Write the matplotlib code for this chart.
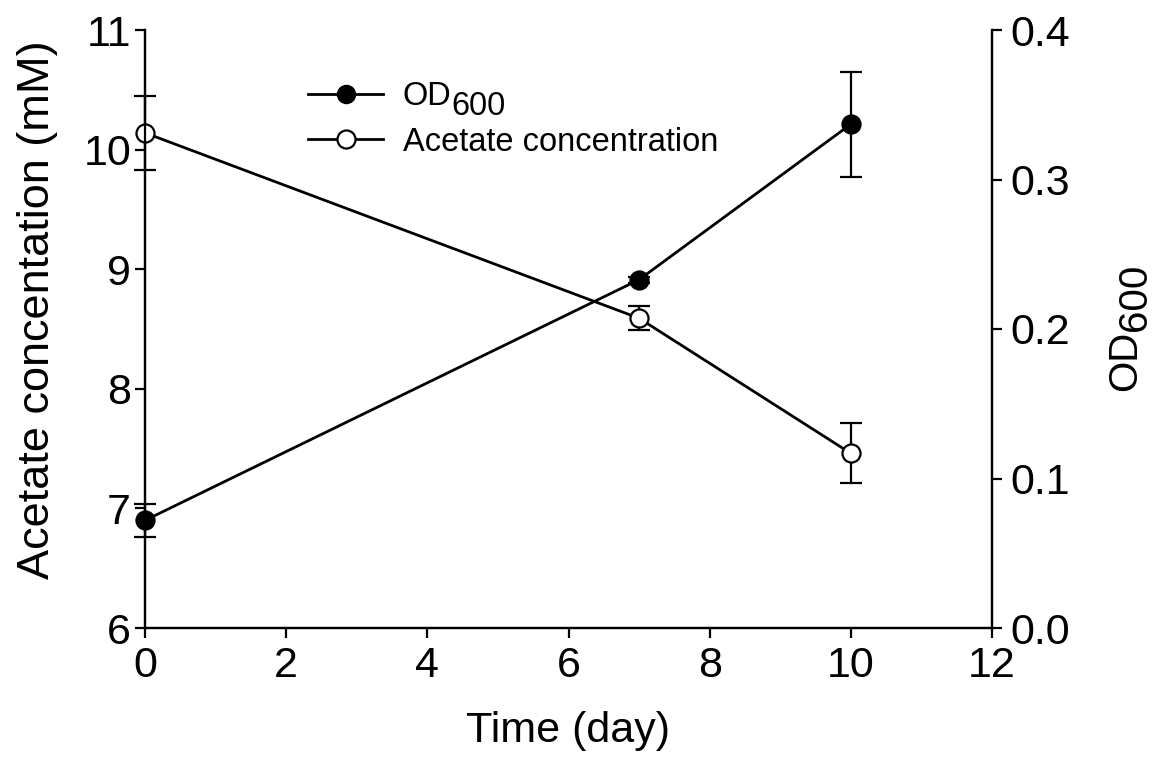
import matplotlib
matplotlib.use("Agg")
import matplotlib.pyplot as plt
from matplotlib.lines import Line2D

plt.rcParams.update({
    "font.family": ["Liberation Sans", "DejaVu Sans"],
})

# data
days = [0, 7, 10]
acetate = [10.14, 8.59, 7.46]      # mM, left axis
acetate_err = [0.31, 0.10, 0.25]
od600 = [0.072, 0.233, 0.337]      # right axis
od600_err = [0.011, 0.002, 0.035]

W, H = 1158, 758
FS = 31
LEG_FS = 23.5
RLAB_FS = 29

fig = plt.figure(figsize=(W / 100, H / 100), dpi=100)
ax = fig.add_axes([145 / W, 1 - 628 / H, (992 - 145) / W, (628 - 30) / H])
ax2 = ax.twinx()

style = dict(color="black", lw=2.0, ms=13, mec="black", mew=1.6,
             elinewidth=1.6, capsize=8, capthick=1.6, clip_on=False)
ax.errorbar(days, acetate, yerr=acetate_err, marker="o", mfc="white", zorder=5, **style)
ax2.errorbar(days, od600, yerr=od600_err, marker="o", mfc="black", zorder=5, **style)

ax.set_xlim(0, 12)
ax.set_ylim(6, 11)
ax2.set_ylim(0, 0.4)
ax.set_xticks(range(0, 13, 2))
ax.set_yticks(range(6, 12))
ax2.set_yticks([0.0, 0.1, 0.2, 0.3, 0.4])
ax2.set_yticklabels(["0.0", "0.1", "0.2", "0.3", "0.4"])

for a in (ax, ax2):
    a.spines["top"].set_visible(False)
    for s in a.spines.values():
        s.set_linewidth(1.6)
    a.tick_params(direction="out", length=7, width=1.6, labelsize=FS, pad=6)
ax.tick_params(axis="y", pad=3)

ax.set_xlabel("Time (day)", fontsize=FS, labelpad=18)
ax.set_ylabel("Acetate concentation (mM)", fontsize=32.5, labelpad=18)
ax.yaxis.label.set_y(0.532)

h_od = Line2D([], [], color="black", lw=2.0, marker="o", ms=13, mfc="black", mec="black")
h_ac = Line2D([], [], color="black", lw=2.0, marker="o", ms=13, mfc="white", mec="black", mew=1.6)
leg = fig.legend([h_od, h_ac], ["OD", "Acetate concentration"],
                 loc="upper left", bbox_to_anchor=(308 / W, 1 - 81 / H),
                 frameon=False, fontsize=LEG_FS, handlelength=2.3, handletextpad=0.6,
                 labelspacing=0.45, borderpad=0, borderaxespad=0)

fig.canvas.draw()
r = fig.canvas.get_renderer()

# subscript "600" at the same size as "OD", just dropped a bit
t_od = leg.get_texts()[0]
bb = t_od.get_window_extent(r)
drop = 0.3 * LEG_FS * 100 / 72
fig.text(bb.x1 / W, (bb.y0 - drop) / H, "600", fontsize=LEG_FS,
         ha="left", va="bottom")

# right axis label OD600, rotated, centred on the axis
xr = 1106
t1 = fig.text(xr / W, 0, "OD", fontsize=RLAB_FS, rotation=90, ha="left", va="bottom")
t2 = fig.text(xr / W, 0, "600", fontsize=RLAB_FS, rotation=90, ha="left", va="bottom")
fig.canvas.draw()
l1 = t1.get_window_extent(r).height
l2 = t2.get_window_extent(r).height
yc = (H - 327)
y0 = yc - (l1 + l2) / 2
t1.set_position((xr / W, y0 / H))
t2.set_position(((xr + 0.25 * RLAB_FS * 100 / 72) / W, (y0 + l1) / H))

fig.savefig("out.png", dpi=100)
